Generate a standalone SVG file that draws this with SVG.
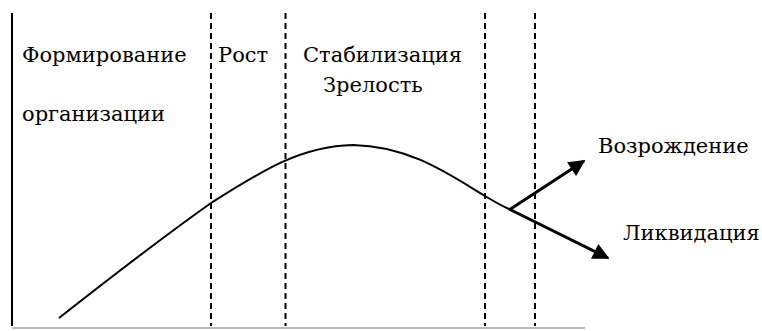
<svg xmlns="http://www.w3.org/2000/svg" width="762" height="331" viewBox="0 0 762 331">
<style>
.lbl{font-family:"DejaVu Serif","Liberation Serif",serif;font-size:21px;fill:#000}
.axis{stroke:#000;stroke-width:2;fill:none}
.base{stroke:#bbb;stroke-width:2;fill:none}
.div{stroke:#000;stroke-width:2;stroke-dasharray:6 4;fill:none}
.curve{stroke:#000;stroke-width:2;fill:none}
.arrow{stroke:#000;stroke-width:3;fill:none;marker-end:url(#ah)}
</style>
<defs>
<marker id="ah" viewBox="0 0 10 10" refX="9" refY="5" markerWidth="6.5" markerHeight="5.5" orient="auto" markerUnits="strokeWidth">
<path d="M0,0 L10,5 L0,10 z" fill="#000"/>
</marker>
</defs>
<g id="frame">
<line class="axis" x1="12" y1="13" x2="12" y2="326"/>
<line class="base" x1="12" y1="328" x2="585" y2="328"/>
</g>
<g id="dividers">
<line class="div" x1="211" y1="13" x2="211" y2="326"/>
<line class="div" x1="285.5" y1="13" x2="285.5" y2="326"/>
<line class="div" x1="485" y1="13" x2="485" y2="326"/>
<line class="div" x1="535" y1="13" x2="535" y2="326"/>
</g>
<g id="labels">
<text class="lbl" x="22" y="62">Формирование</text>
<text class="lbl" x="22" y="121">организации</text>
<text class="lbl" x="218" y="62">Рост</text>
<text class="lbl" x="303" y="62">Стабилизация</text>
<text class="lbl" x="323" y="92">Зрелость</text>
<text class="lbl" x="598" y="153">Возрождение</text>
<text class="lbl" x="623" y="240">Ликвидация</text>
</g>
<g id="connectors">
<path class="curve" d="M59,318 C120,270 180,225 211,203 C260,172 300,146 353,145 C410,146 450,175 485,196 C495,202 502,206 509,209"/>
<line class="arrow" x1="509" y1="210" x2="584" y2="161"/>
<line class="arrow" x1="509" y1="209" x2="608" y2="258"/>
</g>
</svg>
